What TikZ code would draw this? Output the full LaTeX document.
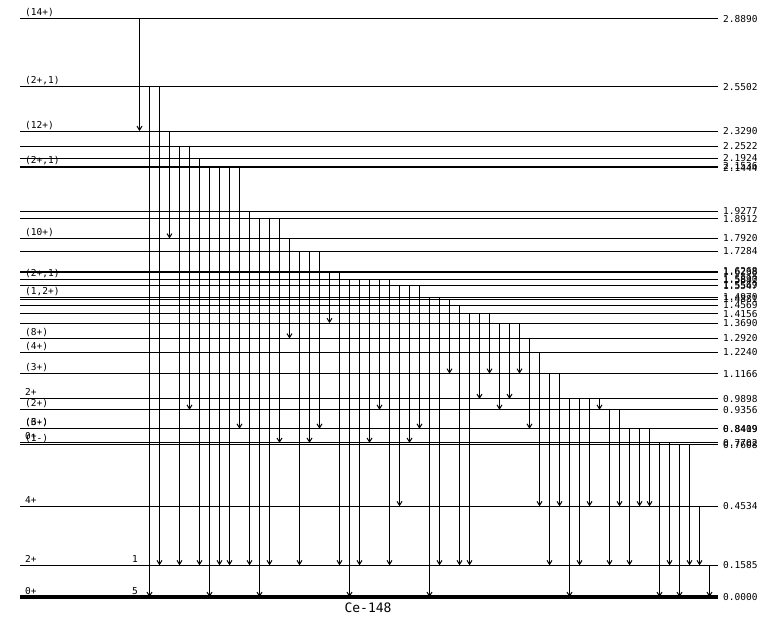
\documentclass[tikz,border=0pt]{standalone}
\usepackage{fontspec}
\setmonofont{DejaVu Sans Mono}
\usetikzlibrary{arrows.meta}

\begin{document}
\begin{tikzpicture}[
		x=1pt, y=200.07pt,
		lvl/.style={line width=1pt},
		gnd/.style={line width=4pt},
		gam/.style={line width=1pt, -{Straight Barb[length=4pt,width=5pt,line width=1pt]}},
		lft/.style={anchor=base west, inner sep=0pt, yshift=3pt, font=\ttfamily\fontsize{9.5}{10}\selectfont},
		rgt/.style={anchor=west, inner sep=0pt, font=\ttfamily\fontsize{9.5}{10}\selectfont},
	]
	\useasboundingbox (0,-0.10996) rectangle (771,2.98396);

	% levels
	\coordinate (e0) at (0,0);
	\draw[gnd] (20,0) -- (718,0);
	\node[rgt] (v0) at (723,0) {0.0000};
	\foreach \n/\e in {158/0.1585, 453/0.4534, 761/0.7608, 770/0.7702, 841/0.8409, 842/0.8419,
		936/0.9356, 990/0.9898, 1117/1.1166, 1224/1.2240, 1292/1.2920, 1369/1.3690,
		1416/1.4156, 1457/1.4569, 1488/1.4881, 1497/1.4970, 1555/1.5547, 1557/1.5569,
		1585/1.5847, 1589/1.5890, 1624/1.6238, 1627/1.6268, 1728/1.7284, 1792/1.7920,
		1891/1.8912, 1928/1.9277, 2144/2.1444, 2154/2.1536, 2192/2.1924, 2252/2.2522,
		2329/2.3290, 2550/2.5502, 2889/2.8890} {
		\coordinate (e\n) at (0,\e);
		\draw[lvl] (20,\e) -- (718,\e);
		\node[rgt] (v\n) at (723,\e) {\e};
	}

	% spins
	\foreach \n/\t in {2889/(14+), 2550/{(2+,1)}, 2329/(12+), 2154/{(2+,1)}, 1792/(10+),
		1589/{(2+,1)}, 1497/{(1,2+)}, 1292/(8+), 1224/(4+), 1117/(3+), 990/2+, 936/(2+),
		841/(6+), 842/(3-), 770/0+, 761/(1-), 453/4+, 158/2+, 0/0+}
		\node[lft] (j\n) at (25,0 |- e\n) {\t};

	\node[lft, anchor=base east] (h158) at (138,0 |- e158) {1};
	\node[lft, anchor=base east] (h0) at (138,0 |- e0) {5};

	% gammas
	\foreach \x/\a/\b in {139.5/2889/2329, 149.5/2550/0, 159.5/2550/158, 169.5/2329/1792,
		179.5/2252/158, 189.5/2252/936, 199.5/2192/158, 209.5/2154/0, 219.5/2154/158,
		229.5/2144/158, 239.5/2144/841, 249.5/1928/158, 259.5/1891/0, 269.5/1891/158,
		279.5/1891/770, 289.5/1792/1292, 299.5/1728/158, 309.5/1728/770, 319.5/1728/841,
		329.5/1627/1369, 339.5/1624/158, 349.5/1589/0, 359.5/1589/158, 369.5/1585/770,
		379.5/1585/936, 389.5/1585/158, 399.5/1557/453, 409.5/1555/770, 419.5/1555/841,
		429.5/1497/0, 439.5/1497/158, 449.5/1488/1117, 459.5/1457/158, 469.5/1416/158,
		479.5/1416/990, 489.5/1416/1117, 499.5/1369/936, 509.5/1369/990, 519.5/1369/1117,
		529.5/1292/841, 539.5/1224/453, 549.5/1117/158, 559.5/1117/453, 569.5/990/0,
		579.5/990/158, 589.5/990/453, 599.5/990/936, 609.5/936/158, 619.5/936/453,
		629.5/842/158, 639.5/841/453, 649.5/842/453, 659.5/770/0, 669.5/770/158,
		679.5/761/0, 689.5/761/158, 699.5/453/158, 709.5/158/0}
		\draw[gam] (\x,0 |- e\a) -- (\x,0 |- e\b);

	\node (nuc) [font=\ttfamily\fontsize{13}{13}\selectfont] at (368,-0.055) {Ce-148};
\end{tikzpicture}
\end{document}
